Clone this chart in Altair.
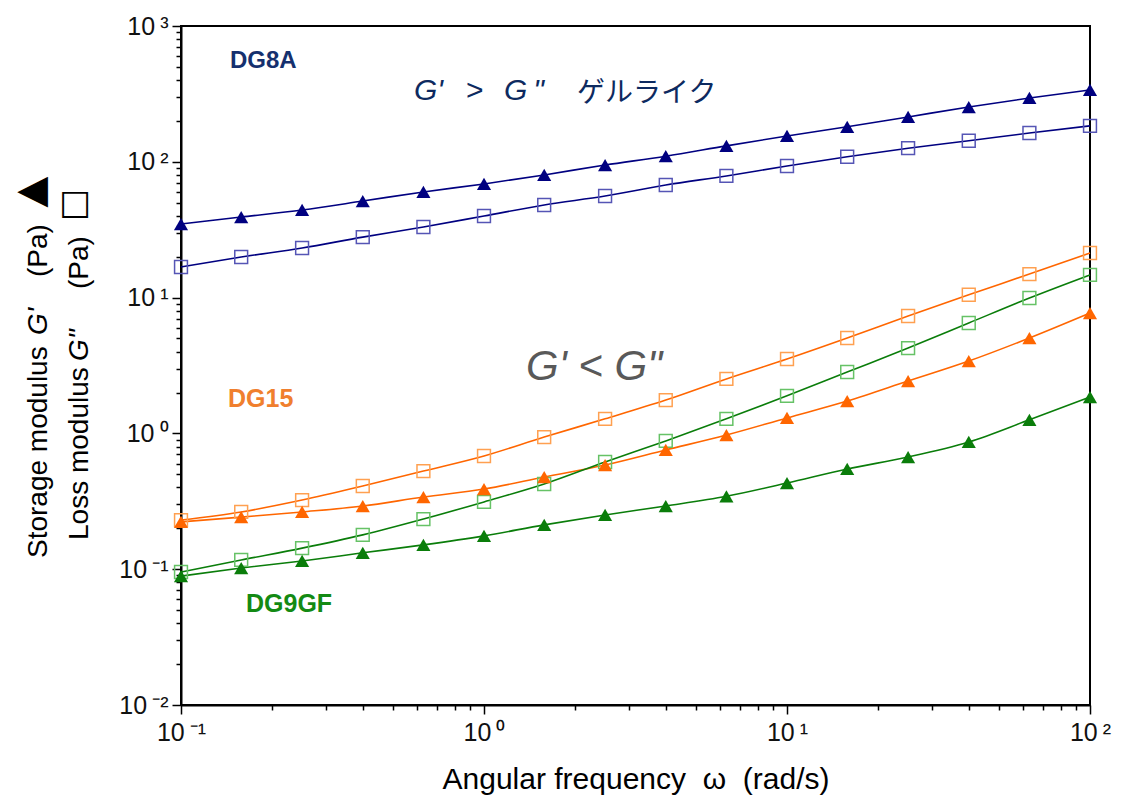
import altair as alt
import pandas as pd

# ---------------- data ----------------
omega = [0.1, 0.158, 0.251, 0.398, 0.631, 1.0, 1.58, 2.51, 3.98, 6.31,
         10.0, 15.8, 25.1, 39.8, 63.1, 100.0]

samples = ["DG8A", "DG15", "DG9GF"]

dg8a_gp = [34.8, 39.2, 44.2, 51.4, 60.0, 68.7, 80.0, 94.7, 110, 131,
           155, 181, 214, 253, 295, 338]
dg8a_gpp = [16.8, 19.9, 23.2, 27.9, 33.1, 39.9, 48.1, 56.0, 67.5, 78.7,
            93.2, 109, 126, 143, 163, 184]
dg15_gp = [0.223, 0.242, 0.264, 0.292, 0.340, 0.389, 0.477, 0.585, 0.755, 0.973,
           1.30, 1.73, 2.43, 3.41, 5.04, 7.7]
dg15_gpp = [0.230, 0.264, 0.323, 0.410, 0.528, 0.682, 0.94, 1.28, 1.76, 2.52,
            3.53, 5.04, 7.32, 10.5, 14.9, 21.3]
dg9gf_gp = [0.089, 0.102, 0.115, 0.132, 0.151, 0.176, 0.212, 0.251, 0.292, 0.344,
            0.431, 0.547, 0.670, 0.865, 1.26, 1.85]
dg9gf_gpp = [0.0953, 0.117, 0.143, 0.179, 0.234, 0.313, 0.424, 0.616, 0.88, 1.28,
             1.89, 2.83, 4.25, 6.5, 9.93, 14.7]

x_ticks = [m * 10.0 ** e for e in range(-1, 2) for m in range(1, 10)] + [100.0]
y_ticks = [m * 10.0 ** e for e in range(-2, 3) for m in range(1, 10)] + [1000.0]

dark = ["#000080", "#ff6600", "#0a7d0a"]
light = ["#5555b5", "#ffa050", "#66c266"]

series = {
    ("DG8A", "Gp"): dg8a_gp, ("DG8A", "Gpp"): dg8a_gpp,
    ("DG15", "Gp"): dg15_gp, ("DG15", "Gpp"): dg15_gpp,
    ("DG9GF", "Gp"): dg9gf_gp, ("DG9GF", "Gpp"): dg9gf_gpp,
}
rows = []
for (s, m), vals in series.items():
    for w, v in zip(omega, vals):
        rows.append({"omega": w, "value": v, "sample": s, "modulus": m, "series": s + m})
df = pd.DataFrame(rows)

# ---------------- axes ----------------
L = "log(datum.value)/LN10"
MAJOR = f"abs({L} - round({L})) < 0.001"
E = f"round({L})"
LABEL = (f"({MAJOR}) ? ('10\u2009' + ({E}==-2?'⁻²':{E}==-1?'⁻¹':{E}==0?'⁰':"
         f"{E}==1?'¹':{E}==2?'²':'³')) : ''")

FONT = "Liberation Sans, Arial, sans-serif"
NB = "\u00a0"

x_axis = alt.Axis(values=x_ticks, labelExpr=LABEL, title=None, grid=False,
                  labelOverlap=False, labelFontSize=25, labelFont=FONT,
                  labelColor="#111111", labelPadding=6, labelFlush=False,
                  tickSize={"condition": {"test": MAJOR, "value": 9}, "value": 5})
y_axis = alt.Axis(values=y_ticks, labelExpr=LABEL, title=None, grid=False,
                  labelOverlap=False, labelFontSize=25, labelFont=FONT,
                  labelColor="#111111", labelPadding=4, labelFlush=False,
                  tickSize={"condition": {"test": MAJOR, "value": 9}, "value": 5})

X = alt.X("omega:Q", scale=alt.Scale(type="log", domain=[0.1, 100], nice=False), axis=x_axis)
Y = alt.Y("value:Q", scale=alt.Scale(type="log", domain=[0.01, 1000], nice=False), axis=y_axis)

base = alt.Chart(df)

lines = base.mark_line(strokeWidth=1.6, interpolate="monotone").encode(
    x=X, y=Y,
    stroke=alt.Stroke("sample:N", scale=alt.Scale(domain=samples, range=dark), legend=None),
    detail="series:N",
)
squares = base.transform_filter(alt.datum.modulus == "Gpp").mark_point(
    shape="square", filled=False, size=165, strokeWidth=1.5, opacity=1
).encode(
    x=X, y=Y,
    color=alt.Color("sample:N", scale=alt.Scale(domain=samples, range=light), legend=None),
)
triangles = base.transform_filter(alt.datum.modulus == "Gp").mark_point(
    shape="triangle-up", filled=True, size=200, opacity=1, strokeWidth=0
).encode(
    x=X, y=Y,
    fill=alt.Fill("sample:N", scale=alt.Scale(domain=samples, range=dark), legend=None),
)

OX, OY = 181, 26  # plot origin in page pixels


def label(text, px, py, size, color="#000000", weight="normal", style="normal",
          font=FONT, angle=0, align="left", baseline="alphabetic"):
    return alt.Chart(pd.DataFrame({"k": [0]})).mark_text(
        text=text, fontSize=size, color=color, fontWeight=weight, fontStyle=style,
        font=font, angle=angle, align=align, baseline=baseline,
    ).encode(x=alt.value(px - OX), y=alt.value(py - OY))


NAVY_T = "#0d2a60"
texts = [
    label("DG8A", 230, 68, 24, "#15306e", weight="bold"),
    label("G'", 414, 100, 30, NAVY_T, style="italic"),
    label(">", 466, 100, 30, NAVY_T),
    label("G\u2009\"", 504, 100, 30, NAVY_T, style="italic"),
    label("ゲルライク", 577, 102, 28, NAVY_T, font="Noto Sans CJK JP"),
    label("DG15", 228, 407, 25, "#f07f2e", weight="bold"),
    label("G' < G\"", 526, 380, 42, "#595959", style="italic"),
    label("DG9GF", 246, 612, 25, "#138a13", weight="bold"),
    # y title, line 1
    label("Storage modulus", 47, 558, 28, angle=270),
    label("G'", 47, 335, 28, style="italic", angle=270),
    label("(Pa)", 47, 277, 28, angle=270),
    label("▲", 31, 192, 40, font="DejaVu Sans", angle=270, align="center", baseline="middle"),
    # y title, line 2
    label("Loss modulus", 88, 540, 28, angle=270),
    label("G\"", 88, 361, 28, style="italic", angle=270),
    label("(Pa)", 88, 289, 28, angle=270),
    label("□", 74, 205, 34, font="DejaVu Sans", angle=270, align="center", baseline="middle"),
    # x title
    label(f"Angular frequency{NB}{NB}ω{NB}{NB}(rad/s)", 636, 789, 30, align="center"),
]

chart = alt.layer(lines, squares, triangles, *texts).properties(
    width=909, height=679,
    autosize=alt.AutoSizeParams(type="none"),
    padding={"left": OX, "top": OY, "right": 1135 - OX - 909, "bottom": 795 - OY - 679},
).configure_view(
    stroke="black", strokeWidth=2
).configure_axis(
    domainColor="black", domainWidth=2, tickColor="black", tickWidth=1.5
)

chart.save("out.html", embed_options={"renderer": "svg", "actions": False})
